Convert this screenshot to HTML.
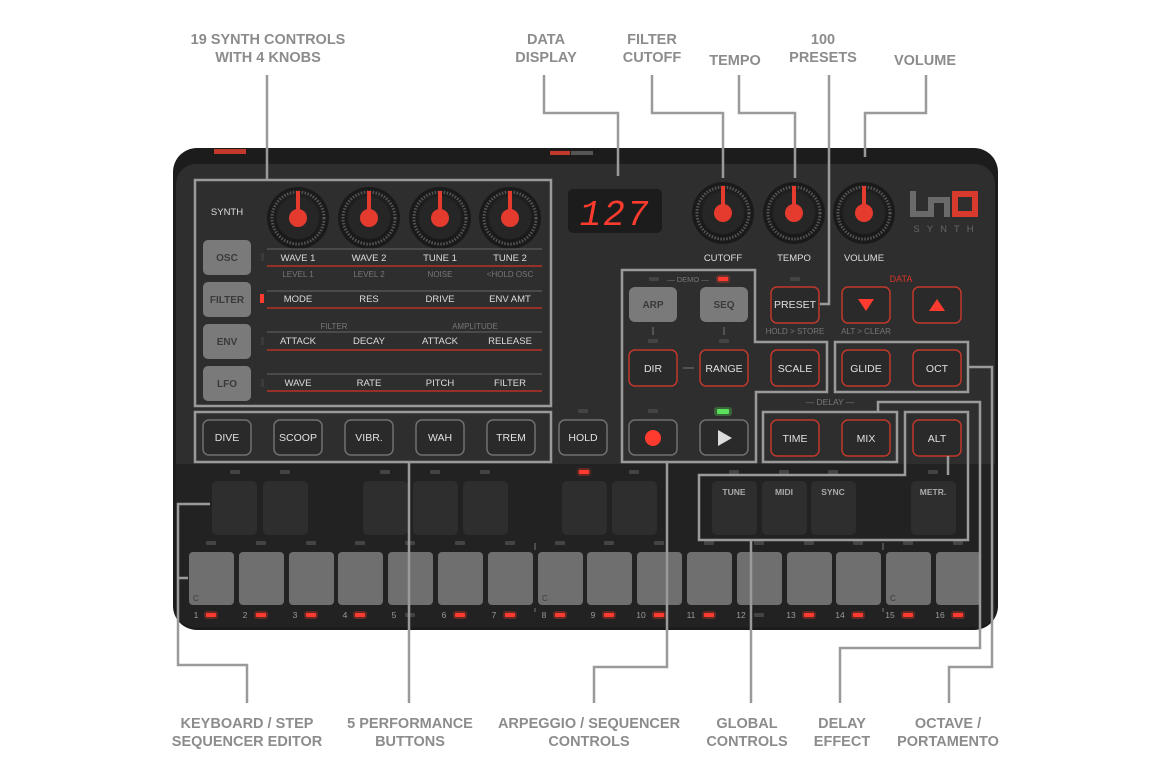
<!DOCTYPE html>
<html><head><meta charset="utf-8"><style>
html,body{margin:0;padding:0;background:#fff;}
svg{display:block;font-family:"Liberation Sans",sans-serif;}
.lbl{font-size:14.5px;font-weight:bold;fill:#8c8c8c;text-anchor:middle;}
.t{font-size:9.5px;fill:#ddd;text-anchor:middle;}
.s{font-size:8px;fill:#777;text-anchor:middle;}
.bt{font-size:10.5px;fill:#e0e0e0;text-anchor:middle;}
.co{fill:none;stroke:#9a9a9a;stroke-width:2.5;}
</style></head><body>
<svg width="1170" height="780" viewBox="0 0 1170 780">
<defs>
<radialGradient id="kg" cx="50%" cy="45%" r="55%"><stop offset="0" stop-color="#3a3a3a"/><stop offset="1" stop-color="#151515"/></radialGradient>
<g id="knob">
<circle r="31" fill="#1a1a1a"/>
<circle r="26" fill="url(#kg)" stroke="#555" stroke-width="3" stroke-dasharray="1.5 1.5"/>
<circle r="21" fill="#262626"/>
<rect x="-2" y="-27" width="4" height="27" fill="#e53a2e"/>
<circle r="9" fill="#e53a2e"/>
</g>
<g id="rb"><rect x="0" y="0" width="48" height="36" rx="6" fill="#2a2a2a" stroke="#c0392b" stroke-width="1.5"/></g>
<g id="gb"><rect x="0" y="0" width="48" height="35" rx="6" fill="#2a2a2a" stroke="#707070" stroke-width="1.5"/></g>
<g id="pad"><rect x="0" y="0" width="45" height="54" rx="5" fill="#2e2e2e"/></g>
<g id="key"><rect x="0" y="0" width="45" height="53" rx="4" fill="#6f6f6f"/></g>
<g id="led"><rect x="-5" y="-2" width="10" height="4" rx="1" fill="#ff3b30"/><rect x="-7" y="-4" width="14" height="8" rx="3" fill="#ff3b30" opacity="0.3"/></g>
<g id="off"><rect x="-5" y="-2" width="10" height="4" rx="1" fill="#444"/></g>
</defs>

<!-- device -->
<rect x="173" y="148" width="825" height="482" rx="24" fill="#1c1c1c"/>
<rect x="176" y="164" width="819" height="463" rx="20" fill="#2e2e2e"/>
<path d="M176 464 H995 V607 Q995 627 975 627 H196 Q176 627 176 607 Z" fill="#222"/>
<rect x="214" y="149" width="32" height="5" fill="#c0392b"/>
<rect x="550" y="151" width="20" height="4" fill="#c0392b"/>
<rect x="571" y="151" width="22" height="4" fill="#555"/>

<!-- synth section -->
<text x="227" y="215" class="t" font-size="10">SYNTH</text>
<use href="#knob" x="298" y="218"/><use href="#knob" x="369" y="218"/><use href="#knob" x="440" y="218"/><use href="#knob" x="510" y="218"/>
<g fill="#7a7a7a"><rect x="203" y="240" width="48" height="35" rx="5"/><rect x="203" y="282" width="48" height="35" rx="5"/><rect x="203" y="324" width="48" height="35" rx="5"/><rect x="203" y="366" width="48" height="35" rx="5"/></g>
<g font-size="10" fill="#3a3a3a" text-anchor="middle" font-weight="bold"><text x="227" y="261">OSC</text><text x="227" y="303">FILTER</text><text x="227" y="345">ENV</text><text x="227" y="387">LFO</text></g>
<g stroke="#666" stroke-width="1"><line x1="267" y1="249" x2="542" y2="249"/><line x1="267" y1="291" x2="542" y2="291"/><line x1="267" y1="332" x2="542" y2="332"/><line x1="267" y1="374" x2="542" y2="374"/></g>
<g stroke="#b83228" stroke-width="1.5"><line x1="267" y1="266" x2="542" y2="266"/><line x1="267" y1="308" x2="542" y2="308"/><line x1="267" y1="350" x2="542" y2="350"/><line x1="267" y1="391" x2="542" y2="391"/></g>
<rect x="261" y="253" width="3" height="8" fill="#3a3a3a"/><rect x="260" y="294" width="4" height="9" fill="#ff3b30"/><rect x="261" y="337" width="3" height="8" fill="#3a3a3a"/><rect x="261" y="379" width="3" height="8" fill="#3a3a3a"/>
<g class="t"><text x="298" y="261">WAVE 1</text><text x="369" y="261">WAVE 2</text><text x="440" y="261">TUNE 1</text><text x="510" y="261">TUNE 2</text>
<text x="298" y="302">MODE</text><text x="369" y="302">RES</text><text x="440" y="302">DRIVE</text><text x="510" y="302">ENV AMT</text>
<text x="298" y="344">ATTACK</text><text x="369" y="344">DECAY</text><text x="440" y="344">ATTACK</text><text x="510" y="344">RELEASE</text>
<text x="298" y="386">WAVE</text><text x="369" y="386">RATE</text><text x="440" y="386">PITCH</text><text x="510" y="386">FILTER</text></g>
<g class="s"><text x="298" y="277">LEVEL 1</text><text x="369" y="277">LEVEL 2</text><text x="440" y="277">NOISE</text><text x="510" y="277">&lt;HOLD OSC</text><text x="334" y="329">FILTER</text><text x="475" y="329">AMPLITUDE</text></g>

<!-- perf buttons -->
<use href="#gb" x="203" y="420"/><use href="#gb" x="274" y="420"/><use href="#gb" x="345" y="420"/><use href="#gb" x="416" y="420"/><use href="#gb" x="487" y="420"/><use href="#gb" x="559" y="420"/>
<g class="bt"><text x="227" y="441">DIVE</text><text x="298" y="441">SCOOP</text><text x="369" y="441">VIBR.</text><text x="440" y="441">WAH</text><text x="511" y="441">TREM</text><text x="583" y="441">HOLD</text></g>
<use href="#off" x="583" y="411"/>

<!-- display -->
<rect x="568" y="189" width="94" height="44" rx="5" fill="#1c1c1c"/>
<text x="615" y="225" font-family="Liberation Mono,monospace" font-size="36" fill="#ff3b2e" text-anchor="middle" font-style="italic" letter-spacing="2">127</text>

<!-- right knobs -->
<use href="#knob" x="723" y="213"/><use href="#knob" x="794" y="213"/><use href="#knob" x="864" y="213"/>
<g class="t"><text x="723" y="261">CUTOFF</text><text x="794" y="261">TEMPO</text><text x="864" y="261">VOLUME</text></g>
<!-- logo -->
<path d="M913 191 V214 H929 M931 217 V200 H947 V217" fill="none" stroke="#6a6a6a" stroke-width="6"/>
<path d="M955 194 H975 V214 H955 Z" fill="none" stroke="#d93a2e" stroke-width="6"/>
<text x="947" y="232" font-size="9.5" fill="#666" text-anchor="middle" letter-spacing="7">SYNTH</text>

<!-- arp section -->
<text x="688" y="282" font-size="7.5" fill="#777" text-anchor="middle">— DEMO —</text>
<use href="#off" x="654" y="279"/><use href="#led" x="723" y="279"/>
<rect x="629" y="287" width="48" height="35" rx="6" fill="#7a7a7a"/><rect x="700" y="287" width="48" height="35" rx="6" fill="#7a7a7a"/>
<g font-size="10" fill="#3a3a3a" text-anchor="middle" font-weight="bold"><text x="653" y="308">ARP</text><text x="724" y="308">SEQ</text></g>
<g stroke="#777"><line x1="653" y1="327" x2="653" y2="335"/><line x1="724" y1="327" x2="724" y2="335"/><line x1="683" y1="368" x2="694" y2="368"/></g>
<use href="#off" x="653" y="341"/><use href="#off" x="724" y="341"/>
<use href="#rb" x="629" y="350"/><use href="#rb" x="700" y="350"/><use href="#rb" x="771" y="350"/>
<g class="bt"><text x="653" y="372">DIR</text><text x="724" y="372">RANGE</text><text x="795" y="372">SCALE</text></g>
<use href="#gb" x="629" y="420"/><use href="#gb" x="700" y="420"/>
<circle cx="653" cy="438" r="8" fill="#ff3b30"/>
<path d="M718 430 L732 438 L718 446 Z" fill="#ddd"/>
<use href="#off" x="653" y="411"/>
<rect x="717" y="409" width="12" height="5" rx="1" fill="#5be05b"/><rect x="714" y="407" width="18" height="9" rx="3" fill="#5be05b" opacity="0.3"/>

<!-- preset/data -->
<use href="#off" x="795" y="279"/>
<text x="901" y="282" font-size="9" fill="#d9352a" text-anchor="middle">DATA</text>
<use href="#rb" x="771" y="287"/><use href="#rb" x="842" y="287"/><use href="#rb" x="913" y="287"/>
<text x="795" y="308" class="bt">PRESET</text>
<path d="M858 299 L874 299 L866 311 Z" fill="#ff3b30"/><path d="M929 311 L945 311 L937 299 Z" fill="#ff3b30"/>
<g class="s"><text x="795" y="334">HOLD &gt; STORE</text><text x="866" y="334">ALT &gt; CLEAR</text></g>
<use href="#rb" x="842" y="350"/><use href="#rb" x="913" y="350"/>
<g class="bt"><text x="866" y="372">GLIDE</text><text x="937" y="372">OCT</text></g>
<text x="830" y="405" font-size="8.5" fill="#777" text-anchor="middle">— DELAY —</text>
<use href="#rb" x="771" y="420"/><use href="#rb" x="842" y="420"/><use href="#rb" x="913" y="420"/>
<g class="bt"><text x="795" y="442">TIME</text><text x="866" y="442">MIX</text><text x="937" y="442">ALT</text></g>

<!-- pads -->
<g><use href="#pad" x="212" y="481"/><use href="#pad" x="263" y="481"/><use href="#pad" x="363" y="481"/><use href="#pad" x="413" y="481"/><use href="#pad" x="463" y="481"/><use href="#pad" x="562" y="481"/><use href="#pad" x="612" y="481"/><use href="#pad" x="712" y="481"/><use href="#pad" x="762" y="481"/><use href="#pad" x="811" y="481"/><use href="#pad" x="911" y="481"/></g>
<g font-size="8.5" fill="#aaa" text-anchor="middle" font-weight="bold"><text x="734" y="495">TUNE</text><text x="784" y="495">MIDI</text><text x="833" y="495">SYNC</text><text x="933" y="495">METR.</text></g>
<use href="#off" x="235" y="472"/><use href="#off" x="285" y="472"/><use href="#off" x="385" y="472"/><use href="#off" x="435" y="472"/><use href="#off" x="485" y="472"/><use href="#led" x="584" y="472"/><use href="#off" x="634" y="472"/><use href="#off" x="734" y="472"/><use href="#off" x="784" y="472"/><use href="#off" x="833" y="472"/><use href="#off" x="933" y="472"/>

<!-- keys -->
<g>
<use href="#key" x="189" y="552"/><use href="#key" x="239" y="552"/><use href="#key" x="289" y="552"/><use href="#key" x="338" y="552"/><use href="#key" x="388" y="552"/><use href="#key" x="438" y="552"/><use href="#key" x="488" y="552"/><use href="#key" x="538" y="552"/><use href="#key" x="587" y="552"/><use href="#key" x="637" y="552"/><use href="#key" x="687" y="552"/><use href="#key" x="737" y="552"/><use href="#key" x="787" y="552"/><use href="#key" x="836" y="552"/><use href="#key" x="886" y="552"/><use href="#key" x="936" y="552"/>
</g>
<g font-size="8" fill="#3a3a3a"><text x="193" y="601">C</text><text x="542" y="601">C</text><text x="890" y="601">C</text></g>
<g><use href="#off" x="211" y="543"/><use href="#off" x="261" y="543"/><use href="#off" x="311" y="543"/><use href="#off" x="360" y="543"/><use href="#off" x="410" y="543"/><use href="#off" x="460" y="543"/><use href="#off" x="510" y="543"/><use href="#off" x="560" y="543"/><use href="#off" x="609" y="543"/><use href="#off" x="659" y="543"/><use href="#off" x="709" y="543"/><use href="#off" x="759" y="543"/><use href="#off" x="809" y="543"/><use href="#off" x="858" y="543"/><use href="#off" x="908" y="543"/><use href="#off" x="958" y="543"/></g>
<g font-size="8.5" fill="#999" text-anchor="middle">
<text x="196" y="618">1</text><text x="245" y="618">2</text><text x="295" y="618">3</text><text x="345" y="618">4</text><text x="394" y="618">5</text><text x="444" y="618">6</text><text x="494" y="618">7</text><text x="544" y="618">8</text><text x="593" y="618">9</text><text x="641" y="618">10</text><text x="691" y="618">11</text><text x="741" y="618">12</text><text x="791" y="618">13</text><text x="840" y="618">14</text><text x="890" y="618">15</text><text x="940" y="618">16</text></g>
<g><use href="#led" x="211" y="615"/><use href="#led" x="261" y="615"/><use href="#led" x="311" y="615"/><use href="#led" x="360" y="615"/><use href="#off" x="410" y="615"/><use href="#led" x="460" y="615"/><use href="#led" x="510" y="615"/><use href="#led" x="560" y="615"/><use href="#led" x="609" y="615"/><use href="#led" x="659" y="615"/><use href="#led" x="709" y="615"/><use href="#off" x="759" y="615"/><use href="#led" x="809" y="615"/><use href="#led" x="858" y="615"/><use href="#led" x="908" y="615"/><use href="#led" x="958" y="615"/></g>
<g stroke="#777"><line x1="535" y1="543" x2="535" y2="550"/><line x1="535" y1="608" x2="535" y2="612"/><line x1="883" y1="543" x2="883" y2="550"/><line x1="883" y1="608" x2="883" y2="612"/></g>

<!-- callout boxes & lines -->
<g class="co">
<rect x="195" y="180" width="356" height="226"/>
<rect x="195" y="412" width="356" height="50"/>
<path d="M622 270 H755 V342 H827 V392 H756 V462 H622 Z"/>
<rect x="835" y="342" width="133" height="50"/>
<rect x="763" y="412" width="134" height="50"/>
<path d="M699 475 H905 V412 H968 V540 H699 Z"/>
<line x1="948" y1="456" x2="948" y2="475"/>
<path d="M267 75 V180"/>
<path d="M544 75 V113 H618 V176"/>
<path d="M652 75 V113 H723 V178"/>
<path d="M739 75 V113 H795 V178"/>
<path d="M829 75 V304 H820"/>
<path d="M926 75 V113 H865 V157"/>
<path d="M210 504 H178 V665 H247 V703"/>
<path d="M178 578 H188"/>
<path d="M409 462 V703"/>
<path d="M667 462 V667 H594 V703"/>
<path d="M751 540 V703"/>
<path d="M878 412 V402 H980 V648 H840 V703"/>
<path d="M968 367 H992 V667 H949 V703"/>
</g>

<!-- labels -->
<g class="lbl">
<text x="268" y="44">19 SYNTH CONTROLS</text><text x="268" y="62">WITH 4 KNOBS</text>
<text x="546" y="44">DATA</text><text x="546" y="62">DISPLAY</text>
<text x="652" y="44">FILTER</text><text x="652" y="62">CUTOFF</text>
<text x="735" y="65">TEMPO</text>
<text x="823" y="44">100</text><text x="823" y="62">PRESETS</text>
<text x="925" y="65">VOLUME</text>
<text x="247" y="728">KEYBOARD / STEP</text><text x="247" y="746">SEQUENCER EDITOR</text>
<text x="410" y="728">5 PERFORMANCE</text><text x="410" y="746">BUTTONS</text>
<text x="589" y="728">ARPEGGIO / SEQUENCER</text><text x="589" y="746">CONTROLS</text>
<text x="747" y="728">GLOBAL</text><text x="747" y="746">CONTROLS</text>
<text x="842" y="728">DELAY</text><text x="842" y="746">EFFECT</text>
<text x="948" y="728">OCTAVE /</text><text x="948" y="746">PORTAMENTO</text>
</g>
</svg>
</body></html>
